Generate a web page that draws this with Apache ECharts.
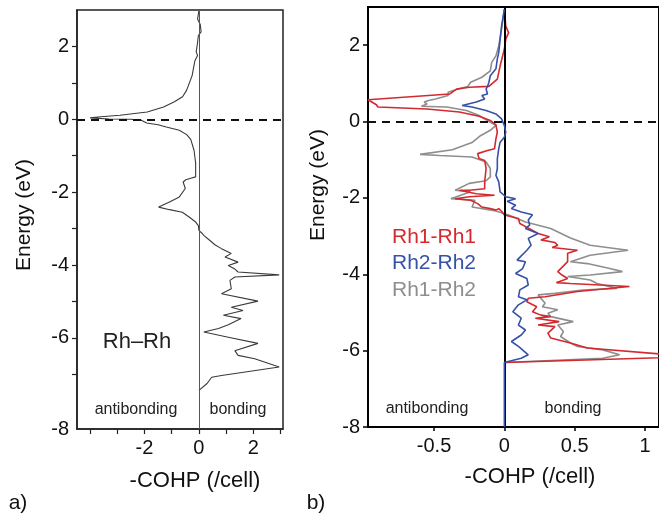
<!DOCTYPE html>
<html>
<head>
<meta charset="utf-8">
<script src="https://cdn.jsdelivr.net/npm/echarts@6/dist/echarts.min.js"></script>
<style>
html,body{margin:0;padding:0;background:#fff;}
#chart{width:659px;height:518px;}
</style>
</head>
<body>
<div id="chart"></div>
<script>
// ---- data: [ -COHP value , Energy (eV) ] ----
const rhRh = [
  [0.0,2.98],[-0.05,2.75],[0.05,2.6],[0.08,2.4],[-0.02,2.3],[-0.05,2.1],[-0.1,1.85],[-0.05,1.75],
  [-0.15,1.6],[-0.2,1.4],[-0.25,1.2],[-0.35,1.0],[-0.45,0.8],[-0.6,0.62],[-0.9,0.48],[-1.3,0.34],
  [-1.9,0.2],[-2.9,0.11],[-3.6,0.07],[-4.0,0.04],[-3.3,0.01],[-2.5,0.0],[-2.1,-0.03],[-1.92,-0.1],
  [-1.5,-0.15],[-1.2,-0.21],[-0.72,-0.3],[-0.45,-0.42],[-0.3,-0.55],[-0.18,-0.85],[-0.12,-1.2],
  [-0.12,-1.58],[-0.3,-1.62],[-0.48,-1.66],[-0.58,-1.72],[-0.5,-1.9],[-0.72,-2.13],[-1.08,-2.27],
  [-1.48,-2.41],[-1.08,-2.48],[-0.61,-2.55],[-0.36,-2.68],[-0.12,-2.82],[-0.02,-2.92],[0.0,-3.05],
  [0.1,-3.12],[0.2,-3.2],[0.36,-3.3],[0.6,-3.45],[0.83,-3.55],[1.19,-3.68],[0.96,-3.78],[1.44,-3.92],
  [1.08,-4.01],[1.3,-4.1],[1.44,-4.19],[2.95,-4.27],[1.32,-4.33],[1.14,-4.42],[1.19,-4.65],[0.83,-4.79],
  [2.17,-4.99],[1.19,-5.16],[1.62,-5.25],[0.9,-5.38],[1.55,-5.47],[1.08,-5.64],[0.72,-5.74],[0.18,-5.84],
  [1.08,-5.98],[2.17,-6.15],[1.32,-6.35],[1.44,-6.48],[2.05,-6.57],[2.95,-6.8],[0.83,-7.03],[0.47,-7.08],
  [0.3,-7.25],[0.0,-7.44]
];
const rh1Rh1 = [
  [0,2.94],[0.01,2.5],[0.03,2.33],[0.01,2.16],[0,1.9],[-0.03,1.46],[-0.05,1.11],[-0.11,0.92],[-0.25,0.9],
  [-0.34,0.85],[-0.39,0.72],[-0.97,0.57],[-0.91,0.44],[-0.9,0.38],[-0.55,0.33],[-0.32,0.25],[-0.18,0.14],
  [-0.1,0.03],[-0.06,-0.09],[-0.05,-0.28],[-0.06,-0.45],[-0.07,-0.71],[-0.12,-0.76],[-0.19,-0.84],
  [-0.18,-0.97],[-0.14,-1.02],[-0.13,-1.23],[-0.14,-1.58],[-0.14,-1.76],[-0.25,-1.8],[-0.32,-1.8],
  [-0.2,-1.89],[-0.07,-1.93],[-0.25,-1.97],[-0.35,-2.02],[-0.24,-2.06],[-0.19,-2.15],[-0.16,-2.24],
  [-0.1,-2.28],[-0.06,-2.32],[-0.04,-2.28],[-0.02,-2.35],[0,-2.45],[0.1,-2.54],[0.11,-2.67],[0.24,-2.93],
  [0.32,-3.02],[0.26,-3.1],[0.36,-3.17],[0.38,-3.24],[0.34,-3.3],[0.52,-3.37],[0.45,-3.45],[0.45,-3.67],
  [0.38,-3.93],[0.41,-4.02],[0.45,-4.11],[0.37,-4.22],[0.47,-4.24],[0.89,-4.32],[0.9,-4.37],[0.52,-4.45],
  [0.29,-4.59],[0.17,-4.63],[0.16,-4.72],[0.23,-4.85],[0.2,-4.98],[0.26,-5.07],[0.33,-5.11],[0.22,-5.15],
  [0.39,-5.24],[0.24,-5.33],[0.36,-5.37],[0.31,-5.54],[0.33,-5.67],[0.47,-5.8],[0.59,-5.93],[1.35,-6.16],
  [0,-6.31]
];
const rh2Rh2 = [
  [0,2.94],[-0.02,2.5],[-0.03,2.16],[-0.04,1.81],[-0.05,1.64],[-0.06,1.38],[-0.1,1.2],[-0.11,1.03],
  [-0.12,0.92],[-0.13,0.85],[-0.12,0.72],[-0.16,0.68],[-0.14,0.59],[-0.2,0.51],[-0.3,0.42],[-0.23,0.38],
  [-0.13,0.29],[-0.06,0.2],[-0.02,0.07],[0,-0.1],[0.01,-0.28],[0,-0.41],[-0.03,-0.54],[-0.04,-0.71],
  [-0.05,-0.97],[-0.05,-1.23],[-0.06,-1.41],[-0.04,-1.58],[-0.03,-1.84],[0.01,-1.97],[0.08,-2.02],
  [0.02,-2.09],[0.08,-2.19],[0.05,-2.28],[0.12,-2.37],[0.2,-2.44],[0.17,-2.58],[0.18,-2.71],[0.15,-2.8],
  [0.24,-2.93],[0.17,-3.06],[0.19,-3.24],[0.16,-3.37],[0.09,-3.63],[0.15,-3.67],[0.13,-3.85],[0.08,-3.98],
  [0.16,-4.11],[0.17,-4.28],[0.11,-4.41],[0.1,-4.59],[0.16,-4.67],[0.1,-4.8],[0.06,-4.98],[0.12,-5.15],
  [0.1,-5.33],[0.15,-5.46],[0.12,-5.59],[0.05,-5.76],[0.1,-5.89],[0.17,-6.11],[0.12,-6.2],[0,-6.31],[0,-8]
];
const rh1Rh2 = [
  [0,2.94],[-0.02,2.42],[-0.04,1.98],[-0.06,1.72],[-0.09,1.55],[-0.1,1.33],[-0.16,1.16],[-0.24,1.03],
  [-0.26,0.92],[-0.33,0.85],[-0.4,0.77],[-0.4,0.68],[-0.49,0.59],[-0.54,0.55],[-0.57,0.51],[-0.55,0.46],
  [-0.59,0.4],[-0.41,0.38],[-0.27,0.29],[-0.18,0.16],[-0.11,0],[-0.06,-0.1],[-0.1,-0.23],[-0.17,-0.37],
  [-0.23,-0.55],[-0.37,-0.74],[-0.6,-0.86],[-0.46,-0.89],[-0.23,-0.93],[-0.13,-1.06],[-0.1,-1.23],
  [-0.1,-1.45],[-0.13,-1.55],[-0.25,-1.62],[-0.35,-1.8],[-0.24,-1.84],[-0.38,-2.02],[-0.21,-2.06],
  [-0.23,-2.24],[-0.06,-2.34],[0.03,-2.45],[0.15,-2.63],[0.33,-2.8],[0.47,-3.05],[0.61,-3.24],[0.88,-3.37],
  [0.61,-3.5],[0.47,-3.67],[0.59,-3.72],[0.75,-3.85],[0.84,-3.93],[0.61,-4.02],[0.45,-4.06],[0.61,-4.15],
  [0.66,-4.24],[0.8,-4.37],[0.56,-4.41],[0.36,-4.5],[0.24,-4.54],[0.26,-4.63],[0.29,-4.76],[0.27,-4.85],
  [0.38,-4.93],[0.31,-5.02],[0.33,-5.11],[0.49,-5.24],[0.38,-5.33],[0.42,-5.5],[0.4,-5.63],[0.47,-5.8],
  [0.52,-5.89],[0.7,-5.98],[0.82,-6.11],[0.7,-6.2],[0,-6.31]
];
// ---- ticks / labels ----
const leftXTicks = [-4,-3,-2,-1,0,1,2,3];
const leftXLabels = [-2,0,2];
const leftYTicks = [-7,-6,-5,-4,-3,-2,-1,0,1,2];
const leftYLabels = [-8.5,-6,-4,-2,0,2];
const rightXLabels = [-0.5,0,0.5,1];
const rightYLabels = [-8,-6,-4,-2,0,2];
const seriesNames = ['Rh1-Rh1','Rh2-Rh2','Rh1-Rh2'];
const colors = {red:'#d42a2f', blue:'#3652a8', gray:'#8e8e8e'};

const FONT = 'Liberation Sans, Arial, sans-serif';
const chart = echarts.init(document.getElementById('chart'), null, {renderer:'canvas'});

function zeroLines(vColor, vWidth){
  return {
    silent:true, symbol:'none', label:{show:false},
    data:[
      {yAxis:0, lineStyle:{color:'#111', width:2, type:[8,6]}},
      {xAxis:0, lineStyle:{color:vColor, width:vWidth, type:'solid'}}
    ]
  };
}

const option = {
  animation:false,
  backgroundColor:'#fff',
  grid:[
    {left:77, top:10, width:206, height:419, show:true, borderColor:'#222', borderWidth:1.5, backgroundColor:'transparent'},
    {left:368, top:7, width:292, height:420, show:true, borderColor:'#000', borderWidth:2, backgroundColor:'transparent'}
  ],
  xAxis:[
    {gridIndex:0, type:'value', min:-4.48, max:3.09, splitLine:{show:false},
     axisLine:{show:true, onZero:false, lineStyle:{color:'#222', width:1.5}},
     axisTick:{show:true, customValues:leftXTicks, length:5, lineStyle:{color:'#222', width:1.2}},
     axisLabel:{customValues:leftXLabels, fontSize:20, color:'#111', fontFamily:FONT, margin:9}},
    {gridIndex:1, type:'value', min:-0.97, max:1.1, splitLine:{show:false},
     axisLine:{show:true, onZero:false, lineStyle:{color:'#000', width:2}},
     axisTick:{show:true, customValues:rightXLabels, length:4, lineStyle:{color:'#000', width:1.5}},
     axisLabel:{customValues:rightXLabels, fontSize:20, color:'#111', fontFamily:FONT, margin:9}}
  ],
  yAxis:[
    {gridIndex:0, type:'value', min:-8.5, max:3, splitLine:{show:false},
     axisLine:{show:true, onZero:false, lineStyle:{color:'#222', width:1.5}},
     axisTick:{show:true, customValues:leftYTicks, length:5, lineStyle:{color:'#222', width:1.2}},
     axisLabel:{customValues:leftYLabels, fontSize:20, color:'#111', fontFamily:FONT, margin:8,
       formatter:v => (v <= -8 ? '-8' : String(v))}},
    {gridIndex:1, type:'value', min:-8, max:3, splitLine:{show:false},
     axisLine:{show:true, onZero:false, lineStyle:{color:'#000', width:2}},
     axisTick:{show:true, customValues:rightYLabels, length:5, lineStyle:{color:'#000', width:1.5}},
     axisLabel:{customValues:rightYLabels, fontSize:20, color:'#111', fontFamily:FONT, margin:8}}
  ],
  series:[
    {type:'line', name:'Rh–Rh', xAxisIndex:0, yAxisIndex:0, data:rhRh, showSymbol:false, symbol:'none',
     lineStyle:{color:'#3a3a3a', width:1.1}, markLine:zeroLines('#555', 1), z:3},
    {type:'line', name:seriesNames[2], xAxisIndex:1, yAxisIndex:1, data:rh1Rh2, showSymbol:false, symbol:'none',
     lineStyle:{color:colors.gray, width:1.6}, markLine:zeroLines('#000', 2), z:3},
    {type:'line', name:seriesNames[0], xAxisIndex:1, yAxisIndex:1, data:rh1Rh1, showSymbol:false, symbol:'none',
     lineStyle:{color:colors.red, width:1.6}, z:4},
    {type:'line', name:seriesNames[1], xAxisIndex:1, yAxisIndex:1, data:rh2Rh2, showSymbol:false, symbol:'none',
     lineStyle:{color:colors.blue, width:1.6}, z:5}
  ],
  graphic:[
    {type:'text', x:24, y:215, rotation:Math.PI/2, style:{text:'Energy (eV)', fontSize:21, fontFamily:FONT, fill:'#111', align:'center', verticalAlign:'middle'}},
    {type:'text', x:318, y:185, rotation:Math.PI/2, style:{text:'Energy (eV)', fontSize:21, fontFamily:FONT, fill:'#111', align:'center', verticalAlign:'middle'}},
    {type:'text', x:195, y:481, style:{text:'-COHP (/cell)', fontSize:22, fontFamily:FONT, fill:'#111', align:'center', verticalAlign:'middle'}},
    {type:'text', x:530, y:477, style:{text:'-COHP (/cell)', fontSize:22, fontFamily:FONT, fill:'#111', align:'center', verticalAlign:'middle'}},
    {type:'text', x:18, y:503, style:{text:'a)', fontSize:21, fontFamily:FONT, fill:'#111', align:'center', verticalAlign:'middle'}},
    {type:'text', x:316, y:503, style:{text:'b)', fontSize:21, fontFamily:FONT, fill:'#111', align:'center', verticalAlign:'middle'}},
    {type:'text', x:137, y:342, style:{text:'Rh–Rh', fontSize:22, fontFamily:FONT, fill:'#222', align:'center', verticalAlign:'middle'}},
    {type:'text', x:136, y:410, style:{text:'antibonding', fontSize:16, fontFamily:FONT, fill:'#222', align:'center', verticalAlign:'middle'}},
    {type:'text', x:238, y:410, style:{text:'bonding', fontSize:16, fontFamily:FONT, fill:'#222', align:'center', verticalAlign:'middle'}},
    {type:'text', x:427, y:409, style:{text:'antibonding', fontSize:16, fontFamily:FONT, fill:'#222', align:'center', verticalAlign:'middle'}},
    {type:'text', x:573, y:409, style:{text:'bonding', fontSize:16, fontFamily:FONT, fill:'#222', align:'center', verticalAlign:'middle'}},
    {type:'text', x:392, y:237, style:{text:seriesNames[0], fontSize:21, fontFamily:FONT, fill:colors.red, align:'left', verticalAlign:'middle'}},
    {type:'text', x:392, y:263, style:{text:seriesNames[1], fontSize:21, fontFamily:FONT, fill:colors.blue, align:'left', verticalAlign:'middle'}},
    {type:'text', x:392, y:290, style:{text:seriesNames[2], fontSize:21, fontFamily:FONT, fill:colors.gray, align:'left', verticalAlign:'middle'}}
  ]
};
chart.setOption(option);
</script>
</body>
</html>
